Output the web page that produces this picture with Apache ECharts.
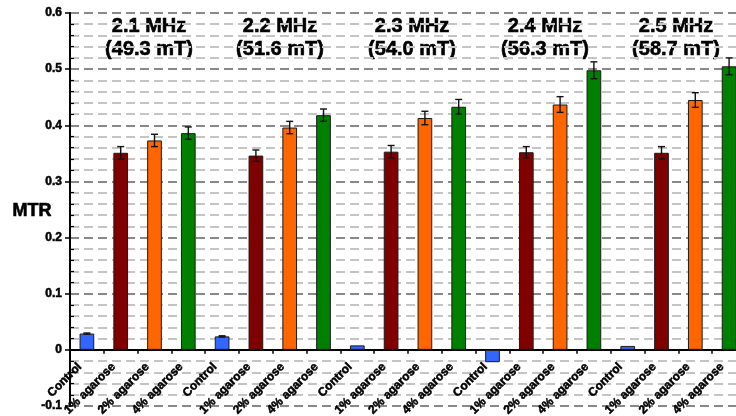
<!DOCTYPE html>
<html><head><meta charset="utf-8">
<script src="https://cdn.jsdelivr.net/npm/echarts@6/dist/echarts.min.js"></script>
<style>html,body{margin:0;padding:0;background:#fff}#c{width:736px;height:416px}</style>
</head><body><div id="c"></div>
<script>
const frequencies = ['2.1 MHz', '2.2 MHz', '2.3 MHz', '2.4 MHz', '2.5 MHz'];
const fieldStrengths = ['(49.3 mT)', '(51.6 mT)', '(54.0 mT)', '(56.3 mT)', '(58.7 mT)'];
const samples = ['Control', '1% agarose', '2% agarose', '4% agarose'];
const mtrControl = [0.029, 0.024, 0.008, -0.022, 0.007];
const mtr1 = [0.351, 0.346, 0.353, 0.352, 0.351];
const mtr2 = [0.373, 0.396, 0.413, 0.437, 0.445];
const mtr4 = [0.386, 0.418, 0.433, 0.498, 0.505];
const errControl = [0.001, 0.001, 0, 0, 0];
const err1 = [0.011, 0.010, 0.011, 0.010, 0.011];
const err2 = [0.011, 0.011, 0.012, 0.014, 0.013];
const err4 = [0.011, 0.011, 0.013, 0.015, 0.015];
const yMin = -0.1, yMax = 0.6, yStep = 0.1;

const sampleColors = ['#3366FF', '#800000', '#FF6600', '#008000'];
const FONT = '"Liberation Sans", Arial, Helvetica, sans-serif';

const valueSets = [mtrControl, mtr1, mtr2, mtr4];
const errSets = [errControl, err1, err2, err4];
const categories = [], barData = [], errData = [];
frequencies.forEach((f, g) => {
  samples.forEach((s, k) => {
    const idx = categories.length;
    categories.push(s);
    barData.push({ value: valueSets[k][g], itemStyle: { color: sampleColors[k] } });
    errData.push([idx, valueSets[k][g], errSets[k][g]]);
  });
});

const chart = echarts.init(document.getElementById('c'), null, { renderer: 'canvas' });

const GRID = { left: 70, right: -10, top: 13, bottom: 10 };
const gridH = 416 - GRID.top - GRID.bottom;
const zeroOffset = -gridH * (0 - yMin) / (yMax - yMin);

const titleX = [149, 280, 412, 545, 676];
const heavy = { stroke: '#000', lineWidth: 0.6 };
const graphics = [];
frequencies.forEach((f, g) => {
  graphics.push({ type: 'text', x: titleX[g], y: 26, style: Object.assign({ text: f, font: 'bold 20px ' + FONT, fill: '#000', textAlign: 'center', textVerticalAlign: 'middle' }, heavy) });
  graphics.push({ type: 'text', x: titleX[g], y: 49, style: Object.assign({ text: fieldStrengths[g], font: 'bold 20px ' + FONT, fill: '#000', textAlign: 'center', textVerticalAlign: 'middle' }, heavy) });
});
graphics.push({ type: 'text', x: 32, y: 211, style: Object.assign({ text: 'MTR', font: 'bold 18px ' + FONT, fill: '#000', textAlign: 'center', textVerticalAlign: 'middle' }, heavy) });

chart.setOption({
  animation: false,
  backgroundColor: '#fff',
  grid: Object.assign({ outerBoundsMode: 'none', containLabel: false }, GRID),
  xAxis: {
    type: 'category',
    data: categories,
    offset: zeroOffset,
    axisLine: { onZero: false, lineStyle: { color: '#000', width: 2 } },
    axisTick: { show: true, length: 4, lineStyle: { color: '#000', width: 1.5 } },
    axisLabel: { interval: 0, rotate: 45, margin: 8, padding: [0, 10, 0, 0], fontSize: 12, fontWeight: 'bold', color: '#000', fontFamily: FONT, textBorderColor: '#000', textBorderWidth: 0.5, hideOverlap: false },
    splitLine: { show: false }
  },
  yAxis: [{
    type: 'value', min: yMin, max: yMax, interval: yStep,
    axisLine: { show: true, lineStyle: { color: '#000', width: 2 } },
    axisTick: { show: true, length: 5, lineStyle: { color: '#000', width: 1.5 } },
    minorTick: { show: false },
    axisLabel: { margin: 8, fontSize: 12, fontWeight: 'bold', color: '#000', fontFamily: FONT, textBorderColor: '#000', textBorderWidth: 0.5, formatter: v => String(Math.round(v * 10) / 10) },
    splitLine: { show: true, lineStyle: { color: '#888888', width: 2, type: [9, 5] } },
    minorSplitLine: { show: true, lineStyle: { color: '#c4c4c4', width: 2, type: [9, 5] } }
  }, {
    type: 'value', min: yMin, max: yMax, interval: yStep, position: 'left',
    axisLine: { show: false },
    axisTick: { show: false, inside: true },
    minorTick: { show: true, splitNumber: 5, length: 4, lineStyle: { color: '#000', width: 1.2 } },
    axisLabel: { show: false },
    splitLine: { show: false },
    minorSplitLine: { show: false }
  }],
  series: [
    {
      type: 'bar', data: barData, barWidth: '43.5%',
      itemStyle: { borderColor: '#1a1a1a', borderWidth: 1 },
      z: 2
    },
    {
      type: 'custom', data: errData, z: 3,
      renderItem: (params, api) => {
        const x = api.value(0), y = api.value(1), e = api.value(2);
        if (!e) return null;
        const t = api.coord([x, y + e]);
        const b = api.coord([x, y - e]);
        const hw = 3.5;
        const st = { stroke: '#111', lineWidth: 1.4 };
        return { type: 'group', children: [
          { type: 'line', shape: { x1: t[0], y1: t[1], x2: b[0], y2: b[1] }, style: st },
          { type: 'line', shape: { x1: t[0] - hw, y1: t[1], x2: t[0] + hw, y2: t[1] }, style: st },
          { type: 'line', shape: { x1: b[0] - hw, y1: b[1], x2: b[0] + hw, y2: b[1] }, style: st }
        ] };
      }
    }
  ],
  graphic: graphics
});
</script></body></html>
